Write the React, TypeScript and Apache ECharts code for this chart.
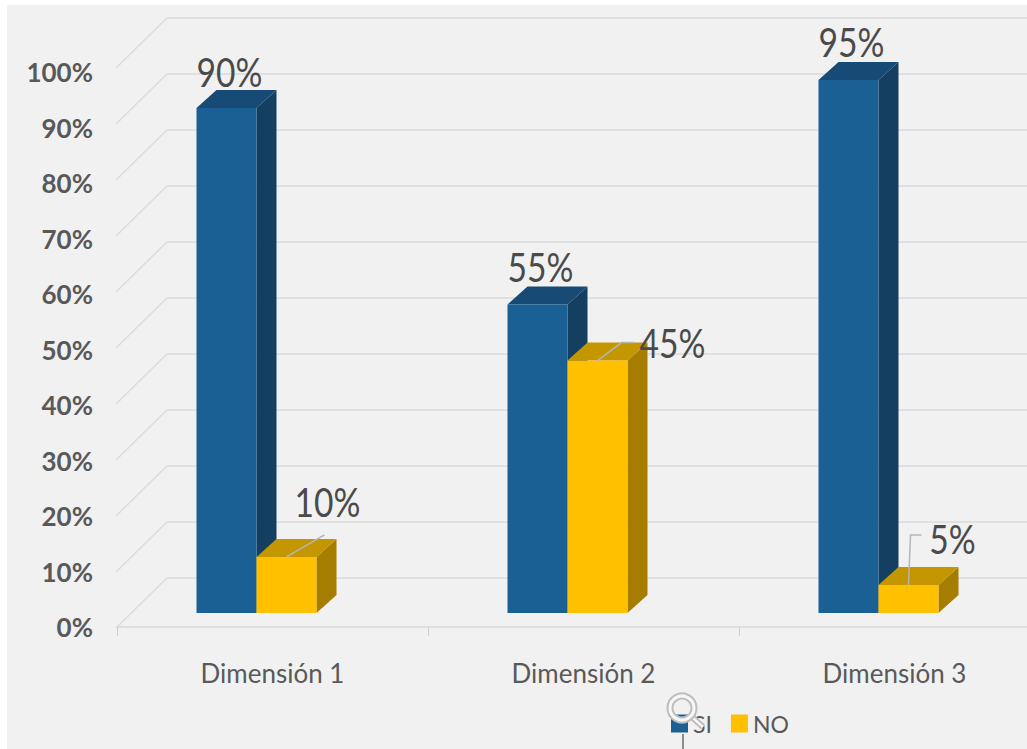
import React, { useEffect, useRef } from "react";
import * as echarts from "echarts";

const categories = ["Dimensión 1", "Dimensión 2", "Dimensión 3"];
const siValues = [90, 55, 95];
const noValues = [10, 45, 5];
const wallTicks = [0, 10, 20, 30, 40, 50, 60, 70, 80, 90, 100];

const LABEL_FONT = "Lato, 'Open Sans', sans-serif";
const TEXT_COLOR = "#4a4a4a";
const BAR_W = 60;
const DEPTH_X = 20;
const DEPTH_Y = 18;

// Label anchor and optional leader polyline per bar, relative to the bar's top-front centre.
const siLabelShift = [
  { dx: 3, dy: -36 },
  { dx: 3, dy: -38 },
  { dx: 3, dy: -38 },
];
const noLabelShift = [
  { dx: 41, dy: -55, leader: [[0, 0], [38, -22]] },
  { dx: 75, dy: -18, leader: [[0, 0], [24, -18], [36, -18]] },
  { dx: 44, dy: -46, leader: [[0, 0], [2, -50], [13, -50]] },
];

type Shift = { dx: number; dy: number; leader?: number[][] };

function renderBar(offset: number, front: string, top: string, side: string, shifts: Shift[]) {
  return (params: any, api: any) => {
    const i = api.value(0);
    const v = api.value(1);
    const [cx, yTop] = api.coord([i, v]);
    const [, yBase] = api.coord([i, 0]);
    const x0 = cx + offset;
    const x1 = x0 + BAR_W;
    const s = shifts[i];
    const children: any[] = [
      {
        type: "polygon",
        shape: { points: [[x1, yBase], [x1 + DEPTH_X, yBase - DEPTH_Y], [x1 + DEPTH_X, yTop - DEPTH_Y], [x1, yTop]] },
        style: { fill: side },
      },
      {
        type: "polygon",
        shape: { points: [[x0, yTop], [x0 + DEPTH_X, yTop - DEPTH_Y], [x1 + DEPTH_X, yTop - DEPTH_Y], [x1, yTop]] },
        style: { fill: top },
      },
      { type: "rect", shape: { x: x0, y: yTop, width: BAR_W, height: yBase - yTop }, style: { fill: front } },
    ];
    const mid = x0 + BAR_W / 2;
    if (s.leader) {
      children.push({
        type: "polyline",
        shape: { points: s.leader.map((p) => [mid + p[0], yTop + p[1]]) },
        style: { stroke: "#b5b5b5", lineWidth: 1.5, fill: "none" },
      });
    }
    children.push({
      type: "text",
      x: mid + s.dx,
      y: yTop + s.dy,
      scaleX: 0.84,
      style: {
        text: `${v}%`,
        fill: TEXT_COLOR,
        font: `40px ${LABEL_FONT}`,
        align: "center",
        verticalAlign: "middle",
      },
    });
    return { type: "group", children };
  };
}

export default function App() {
  const ref = useRef<HTMLDivElement>(null);

  useEffect(() => {
    const chart = echarts.init(ref.current!, undefined, { renderer: "svg" });
    const hiddenX = (gridIndex: number) => ({
      type: "category" as const,
      gridIndex,
      data: categories,
      show: false,
    });
    chart.setOption({
      animation: false,
      backgroundColor: "#ffffff",
      graphic: [
        { type: "rect", z: -10, shape: { x: 7, y: 5, width: 1020, height: 744 }, style: { fill: "#f1f1f1" } },
        // Magnifier cursor sitting over the first legend key.
        { type: "line", z: 100, shape: { x1: 692, y1: 717, x2: 703, y2: 727 }, style: { stroke: "#b8b8b8", lineWidth: 6 } },
        { type: "line", z: 101, shape: { x1: 692, y1: 717, x2: 703, y2: 727 }, style: { stroke: "#f4f4f4", lineWidth: 2.5 } },
        { type: "circle", z: 102, shape: { cx: 682, cy: 708, r: 12 }, style: { fill: "none", stroke: "#bdbdbd", lineWidth: 7 } },
        { type: "circle", z: 103, shape: { cx: 682, cy: 708, r: 12 }, style: { fill: "none", stroke: "#f7f7f7", lineWidth: 3 } },
        { type: "line", z: 100, shape: { x1: 683, y1: 734, x2: 683, y2: 749 }, style: { stroke: "#8c8c8c", lineWidth: 2 } },
      ],
      legend: {
        left: 666,
        top: 707,
        itemWidth: 17,
        itemHeight: 18,
        itemGap: 19,
        icon: "rect",
        data: ["SI", "NO"],
        textStyle: { color: "#595959", fontSize: 23, fontFamily: LABEL_FONT, padding: [0, 0, 0, 0] },
      },
      grid: [
        { left: 117, top: 72, width: 933, height: 555, outerBoundsMode: "none" },
        { left: 117, top: 52, width: 933, height: 561, outerBoundsMode: "none" },
        { left: 167, top: 18, width: 900, height: 560, outerBoundsMode: "none" },
      ],
      xAxis: [
        {
          type: "category",
          gridIndex: 0,
          data: categories,
          axisLine: { lineStyle: { color: "#dedede", width: 2 } },
          axisTick: { show: true, length: 9, lineStyle: { color: "#cfcfcf", width: 1 } },
          axisLabel: { color: "#595959", fontSize: 26, fontFamily: LABEL_FONT, margin: 33 },
        },
        hiddenX(1),
        hiddenX(2),
      ],
      yAxis: [
        {
          type: "value",
          gridIndex: 0,
          min: 0,
          max: 100,
          interval: 10,
          axisLine: { show: false },
          axisTick: { show: false },
          splitLine: { show: false },
          axisLabel: {
            formatter: "{value}%",
            color: "#595959",
            fontSize: 26,
            fontWeight: "bold",
            fontFamily: LABEL_FONT,
            margin: 24,
          },
        },
        { type: "value", gridIndex: 1, min: 0, max: 100, interval: 10, show: false },
        {
          type: "value",
          gridIndex: 2,
          min: 0,
          max: 100,
          interval: 10,
          axisLine: { show: false },
          axisTick: { show: false },
          axisLabel: { show: false },
          splitLine: { show: true, lineStyle: { color: "#e0e0e0", width: 2 } },
        },
      ],
      series: [
        {
          // Side-wall diagonals joining the front axis to the back-wall gridlines.
          type: "custom",
          silent: true,
          xAxisIndex: 2,
          yAxisIndex: 2,
          data: wallTicks.map((t) => [0, t]),
          encode: { x: 0, y: 1 },
          renderItem: (params: any, api: any) => {
            const y = api.coord([0, api.value(1)])[1];
            return {
              type: "line",
              shape: { x1: 167, y1: y, x2: 116, y2: y + 50 },
              style: { stroke: "#dcdcdc", lineWidth: 1.5 },
            };
          },
        },
        {
          name: "SI",
          type: "custom",
          xAxisIndex: 1,
          yAxisIndex: 1,
          itemStyle: { color: "#1b6094" },
          data: siValues.map((v, i) => [i, v]),
          encode: { x: 0, y: 1 },
          renderItem: renderBar(-76, "#1b6094", "#174a75", "#143f61", siLabelShift),
        },
        {
          name: "NO",
          type: "custom",
          xAxisIndex: 1,
          yAxisIndex: 1,
          itemStyle: { color: "#ffc000" },
          data: noValues.map((v, i) => [i, v]),
          encode: { x: 0, y: 1 },
          renderItem: renderBar(-16, "#ffc000", "#c49600", "#a67d00", noLabelShift),
        },
      ],
    });
    return () => chart.dispose();
  }, []);

  return <div ref={ref} style={{ position: "absolute", left: 0, top: 0, width: 1027, height: 749 }} />;
}
